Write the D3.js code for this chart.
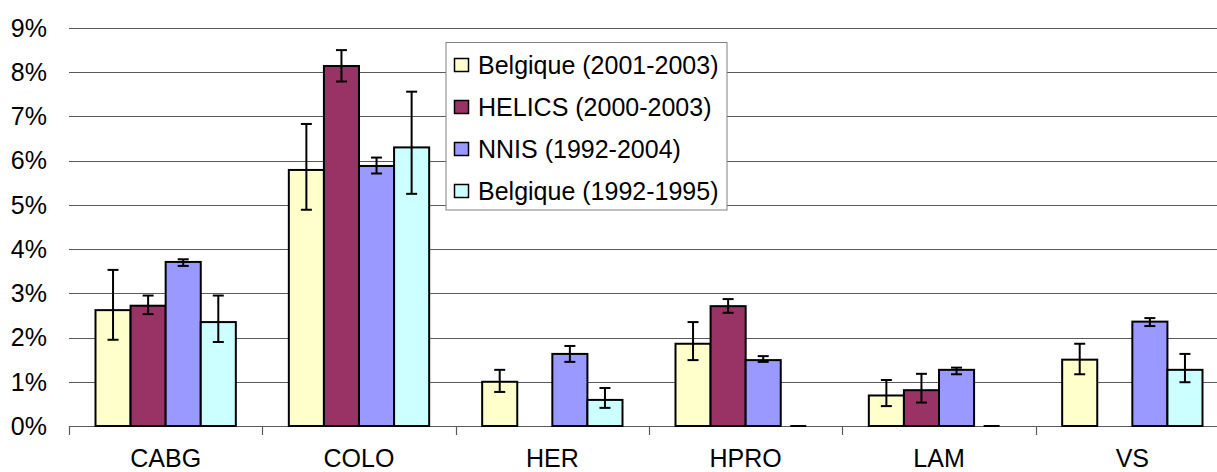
<!DOCTYPE html>
<html>
<head>
<meta charset="utf-8">
<script src="https://cdn.jsdelivr.net/npm/d3@7"></script>
<style>
  body { margin: 0; background: #fff; }
  svg { display: block; font-family: "Liberation Sans", Arial, sans-serif; }
</style>
</head>
<body>
<svg width="1217" height="472"></svg>
<script>
// data (percent values)
var categories = ["CABG", "COLO", "HER", "HPRO", "LAM", "VS"];
var seriesNames = ["Belgique (2001-2003)", "HELICS (2000-2003)", "NNIS (1992-2004)", "Belgique (1992-1995)"];
var seriesColors = ["#FFFFCC", "#993366", "#9999FF", "#CCFFFF"];

var belg01 = [2.62, 5.79, 1.00, 1.86, 0.69, 1.50];
var belg01Lo = [1.95, 4.89, 0.77, 1.49, 0.45, 1.17];
var belg01Hi = [3.53, 6.83, 1.27, 2.35, 1.04, 1.86];

var helics = [2.72, 8.14, null, 2.71, 0.81, null];
var helicsLo = [2.53, 7.79, null, 2.56, 0.53, null];
var helicsHi = [2.95, 8.50, null, 2.87, 1.18, null];

var nnis = [3.71, 5.88, 1.63, 1.49, 1.27, 2.36];
var nnisLo = [3.62, 5.71, 1.45, 1.45, 1.17, 2.26];
var nnisHi = [3.77, 6.07, 1.81, 1.58, 1.32, 2.44];

var belg92 = [2.35, 6.30, 0.59, 0, 0, 1.27];
var belg92Lo = [1.90, 5.25, 0.41, null, null, 0.99];
var belg92Hi = [2.95, 7.56, 0.86, null, null, 1.63];

var yTicks = [0, 1, 2, 3, 4, 5, 6, 7, 8, 9];

var allVals = [belg01, helics, nnis, belg92];
var allLo = [belg01Lo, helicsLo, nnisLo, belg92Lo];
var allHi = [belg01Hi, helicsHi, nnisHi, belg92Hi];

// build rows for drawing
var bars = [];
seriesNames.forEach(function(s, si) {
  categories.forEach(function(c, ci) {
    var v = allVals[si][ci];
    if (v == null) return;
    bars.push({cat: c, series: s, color: seriesColors[si], v: v, lo: allLo[si][ci], hi: allHi[si][ci]});
  });
});

var svg = d3.select("svg");

var y = d3.scaleLinear().domain([0, 9]).range([426, 28]);
var x0 = d3.scaleBand().domain(categories).range([69, 1229]);
var gap = 26.5;
var x1 = d3.scaleBand().domain(seriesNames).range([gap, x0.bandwidth() - gap]);

// gridlines
svg.append("g")
  .selectAll("line")
  .data(yTicks)
  .enter().append("line")
  .attr("x1", 69).attr("x2", 1229)
  .attr("y1", d => Math.round(y(d)) + 0.5)
  .attr("y2", d => Math.round(y(d)) + 0.5)
  .style("stroke", "#5a5a5a")
  .style("stroke-width", 1.2);

// y labels
svg.append("g")
  .selectAll("text")
  .data(yTicks)
  .enter().append("text")
  .attr("x", 47)
  .attr("y", d => y(d))
  .attr("dy", "0.35em")
  .attr("text-anchor", "end")
  .style("font-size", "25px")
  .text(d => d + "%");

// x axis ticks
var tickXs = categories.map(c => x0(c));
svg.append("g")
  .selectAll("line")
  .data(tickXs)
  .enter().append("line")
  .attr("x1", d => Math.round(d) + 0.5).attr("x2", d => Math.round(d) + 0.5)
  .attr("y1", 426).attr("y2", 435)
  .style("stroke", "#5a5a5a")
  .style("stroke-width", 1.2);

// category labels
svg.append("g")
  .selectAll("text")
  .data(categories)
  .enter().append("text")
  .attr("x", d => x0(d) + x0.bandwidth() / 2)
  .attr("y", 467)
  .attr("text-anchor", "middle")
  .style("font-size", "25px")
  .text(d => d);

// bars
var barG = svg.append("g");
barG.selectAll("rect")
  .data(bars.filter(d => d.v > 0))
  .enter().append("rect")
  .attr("x", d => x0(d.cat) + x1(d.series))
  .attr("y", d => y(d.v))
  .attr("width", x1.bandwidth())
  .attr("height", d => y(0) - y(d.v))
  .attr("fill", d => d.color)
  .style("stroke", "#000")
  .style("stroke-width", 2);

// zero-height bars show as a short dark line
barG.selectAll("line.zero")
  .data(bars.filter(d => d.v === 0))
  .enter().append("line")
  .attr("class", "zero")
  .attr("x1", d => x0(d.cat) + x1(d.series) + x1.bandwidth() / 2 - 8)
  .attr("x2", d => x0(d.cat) + x1(d.series) + x1.bandwidth() / 2 + 8)
  .attr("y1", y(0)).attr("y2", y(0))
  .style("stroke", "#000")
  .style("stroke-width", 2);

// error bars
var errs = bars.filter(d => d.lo != null);
var eg = svg.append("g").style("stroke", "#000").style("stroke-width", 2);
errs.forEach(function(d) {
  var cx = x0(d.cat) + x1(d.series) + x1.bandwidth() / 2;
  eg.append("line").attr("x1", cx).attr("x2", cx).attr("y1", y(d.hi)).attr("y2", y(d.lo));
  eg.append("line").attr("x1", cx - 5.5).attr("x2", cx + 5.5).attr("y1", y(d.hi)).attr("y2", y(d.hi));
  eg.append("line").attr("x1", cx - 5.5).attr("x2", cx + 5.5).attr("y1", y(d.lo)).attr("y2", y(d.lo));
});

// legend
var legend = svg.append("g").attr("transform", "translate(446,42.5)");
legend.append("rect")
  .attr("width", 281).attr("height", 167.5)
  .attr("fill", "#fff")
  .style("stroke", "#808080")
  .style("stroke-width", 1);

var item = legend.selectAll("g.item")
  .data(seriesNames)
  .enter().append("g")
  .attr("class", "item")
  .attr("transform", (d, i) => "translate(0," + (22.5 + i * 42) + ")");

item.append("rect")
  .attr("x", 8.5).attr("y", -6.5)
  .attr("width", 14).attr("height", 13)
  .attr("fill", (d, i) => seriesColors[i])
  .style("stroke", "#000")
  .style("stroke-width", 1.5);

item.append("text")
  .attr("x", 32)
  .attr("dy", "0.35em")
  .style("font-size", "25px")
  .text(d => d);
</script>
</body>
</html>
